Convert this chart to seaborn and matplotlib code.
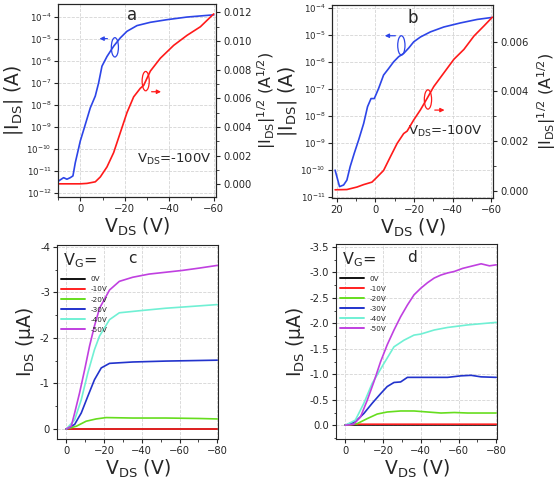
import numpy as np
import pandas as pd
import seaborn as sns
import matplotlib.pyplot as plt
from matplotlib.patches import Ellipse
from matplotlib.ticker import LogLocator, NullLocator, FixedLocator, MultipleLocator, FuncFormatter

# ---- panel a : transfer curve (log |I| and sqrt |I|) ----
a_vg_log = [9.75, 7.5, 6, 4.5, 3.3, 2.25, 1.2, 0, -2.25, -4.5, -6.75, -8.25, -9.75, -12, -15,
            -18, -21, -25.5, -31.5, -39, -48, -60]
a_log_i = [-11.47, -11.32, -11.39, -11.32, -11.24, -10.64, -10.18, -9.65, -8.9, -8.14, -7.6, -7.0,
           -6.24, -5.8, -5.33, -4.95, -4.65, -4.39, -4.24, -4.12, -4.0, -3.9]
a_vg_sqrt = [9.75, 0, -3, -6.75, -9, -12, -15, -18, -21, -24, -27, -28.5, -31.5, -36, -42, -48, -54, -60]
a_sqrt_i = [0.00002, 0.00002, 0.00005, 0.00016, 0.0005, 0.0012, 0.0022, 0.0036, 0.005, 0.0061, 0.0067,
            0.0069, 0.0079, 0.0088, 0.0097, 0.0104, 0.011, 0.0119]

# ---- panel b ----
b_vg_log = [20.9, 18.6, 16.5, 14.8, 13.1, 11, 8.7, 6.1, 4.1, 2.3, 0.6, -1.6, -4.2, -6.8, -9.4, -12,
            -14.6, -17.2, -19.8, -23.3, -28.5, -35.4, -44, -52.7, -60]
b_log_i = [-10.02, -10.63, -10.57, -10.39, -9.89, -9.4, -8.9, -8.29, -7.67, -7.37, -7.37, -7.0, -6.5,
           -6.26, -6.01, -5.82, -5.7, -5.5, -5.27, -5.09, -4.9, -4.72, -4.57, -4.44, -4.37]
b_vg_sqrt = [20.9, 14.8, 9.6, 6.1, 1.8, -0.8, -4.2, -7.7, -11.2, -14.6, -16.4, -19.8, -23.3, -26.8,
             -30.2, -35.4, -40.6, -45.8, -51, -56.2, -60.5]
b_sqrt_i = [0.00003, 0.00004, 0.00014, 0.00024, 0.00034, 0.00054, 0.00081, 0.00136, 0.0019, 0.0023,
            0.0024, 0.00285, 0.00326, 0.00373, 0.0042, 0.00475, 0.0053, 0.0057, 0.00624, 0.00665, 0.007]

# ---- panel c : output curves ----
gate_labels = ['0V', '-10V', '-20V', '-30V', '-40V', '-50V']
c_vd = {
    '0V': [0, -80],
    '-10V': [0, -80],
    '-20V': [0, -5.3, -10.5, -15.8, -21.1, -35.2, -52.7, -70.3, -80],
    '-30V': [0, -4.4, -7.9, -11.4, -14.9, -18.5, -22.9, -35.2, -52.7, -80],
    '-40V': [0, -4.4, -7.9, -11.4, -14.9, -17.6, -22.9, -28.1, -40, -52.7, -63, -80],
    '-50V': [0, -2.6, -4.4, -7, -9.7, -12.3, -14.9, -17.6, -22.9, -28.1, -35.2, -43.9, -52.7, -61.5, -70.3, -80],
}
c_id = {
    '0V': [0, 0],
    '-10V': [0, 0],
    '-20V': [0, -0.06, -0.17, -0.22, -0.25, -0.24, -0.24, -0.23, -0.22],
    '-30V': [0, -0.1, -0.35, -0.72, -1.08, -1.34, -1.44, -1.47, -1.49, -1.51],
    '-40V': [0, -0.2, -0.64, -1.23, -1.74, -2.04, -2.4, -2.55, -2.6, -2.65, -2.68, -2.73],
    '-50V': [0, -0.06, -0.35, -0.79, -1.3, -1.82, -2.26, -2.65, -3.05, -3.24, -3.33, -3.4, -3.44, -3.48, -3.53, -3.59],
}

# ---- panel d ----
d_vd = {
    '0V': [0, -80],
    '-10V': [0, -5, -80],
    '-20V': [0, -6.2, -11.6, -16.9, -22.2, -29.3, -36.4, -43.6, -50.7, -57.8, -64.9, -80],
    '-30V': [0, -5.3, -9.8, -14.2, -18.7, -22.2, -25.8, -29.3, -32.9, -40, -47.1, -54.2, -61.3, -66.7, -72, -80],
    '-40V': [0, -5.3, -9.8, -14.2, -20.4, -25.8, -31.1, -36.4, -40, -47.1, -54.2, -64.9, -80],
    '-50V': [0, -4.4, -8, -11.6, -15.1, -18.7, -22.2, -25.8, -29.3, -32.9, -36.4, -40, -43.6, -47.1,
             -50.7, -54.2, -57.8, -62.2, -67.6, -72, -76.4, -80],
}
d_id = {
    '0V': [0, 0],
    '-10V': [0, -0.02, -0.02],
    '-20V': [0, -0.03, -0.13, -0.22, -0.26, -0.28, -0.28, -0.26, -0.24, -0.25, -0.24, -0.24],
    '-30V': [0, -0.07, -0.23, -0.43, -0.62, -0.76, -0.84, -0.85, -0.94, -0.94, -0.94, -0.94, -0.97, -0.98, -0.95, -0.94],
    '-40V': [0, -0.1, -0.43, -0.82, -1.21, -1.54, -1.67, -1.77, -1.79, -1.87, -1.92, -1.97, -2.02],
    '-50V': [0, -0.02, -0.16, -0.49, -0.85, -1.25, -1.58, -1.87, -2.13, -2.36, -2.56, -2.69, -2.8, -2.89,
             -2.95, -2.99, -3.02, -3.08, -3.13, -3.17, -3.13, -3.15],
}

gate_colors = ['#111111', '#ff2020', '#66dd1e', '#2233cc', '#70f0d4', '#c040e0']
blue = '#2d45e8'
red = '#ff1a1a'

sns.set_style("ticks")
plt.rcParams['font.family'] = ['DejaVu Sans']
plt.rcParams['mathtext.default'] = 'regular'
plt.rcParams['xtick.direction'] = 'out'
plt.rcParams['ytick.direction'] = 'out'

fig = plt.figure(figsize=(5.58, 4.84), dpi=100)
ax_a = fig.add_axes([0.104, 0.593, 0.283, 0.399])
ax_b = fig.add_axes([0.595, 0.591, 0.289, 0.399])
ax_c = fig.add_axes([0.102, 0.093, 0.289, 0.401])
ax_d = fig.add_axes([0.602, 0.093, 0.289, 0.403])

tick_fs = 7.2
label_fs = 13.5
grid_kw = dict(color='#d4d4d4', linewidth=0.6, linestyle='--')


def pow_fmt(v, pos):
    return r'$10^{%d}$' % round(np.log10(v))


def transfer(ax, vg_log, log_i, vg_sqrt, sqrt_i, xlim, ylog, ysq, sq_ticks, letter, letter_pos,
             vds_pos, blue_mark, red_mark, right_label_x):
    df_log = pd.DataFrame({'vg': vg_log, 'i': 10 ** np.array(log_i)})
    df_sq = pd.DataFrame({'vg': vg_sqrt, 'i': sqrt_i})
    sns.lineplot(data=df_log, x='vg', y='i', ax=ax, color=blue, lw=1.2, sort=False)
    ax.set_yscale('log')
    ax.set_xlim(*xlim)
    ax.set_ylim(10 ** ylog[0], 10 ** ylog[1])
    ax.yaxis.set_major_locator(LogLocator(base=10, numticks=20))
    ax.yaxis.set_major_formatter(FuncFormatter(pow_fmt))
    ax.yaxis.set_minor_locator(NullLocator())
    ax.xaxis.set_major_locator(MultipleLocator(20))
    ax.xaxis.set_minor_locator(MultipleLocator(10))
    ax.grid(axis='y', **grid_kw)
    ax.grid(axis='x', **grid_kw)
    ax.tick_params(labelsize=tick_fs, length=3, width=0.8, pad=2)
    ax.tick_params(axis='y', labelsize=6.2, pad=1.5)
    ax.tick_params(which='minor', length=1.8)
    ax.set_xlabel(r'V$_{DS}$ (V)', fontsize=label_fs, labelpad=1)
    ax.set_ylabel(r'|I$_{DS}$| (A)', fontsize=label_fs, labelpad=1)

    ax2 = ax.twinx()
    sns.lineplot(data=df_sq, x='vg', y='i', ax=ax2, color=red, lw=1.2, sort=False)
    ax2.set_ylim(*ysq)
    step = sq_ticks[1] - sq_ticks[0]
    ax2.yaxis.set_major_locator(FixedLocator(sq_ticks))
    ax2.yaxis.set_minor_locator(FixedLocator(np.array(sq_ticks[:-1]) + step / 2))
    ax2.yaxis.set_major_formatter(FuncFormatter(lambda v, p: '%.3f' % v))
    ax2.tick_params(labelsize=tick_fs, length=3, width=0.8, pad=2)
    ax2.tick_params(which='minor', length=1.8)
    ax2.set_ylabel(r'|I$_{DS}$|$^{1/2}$ (A$^{1/2}$)', fontsize=11.5)
    ax2.yaxis.set_label_coords(right_label_x, 0.5)
    ax2.set_xlim(*xlim)
    ax2.set_xlabel('')
    for s in ax.spines.values():
        s.set_linewidth(0.8)

    ax.text(letter_pos[0], letter_pos[1], letter, transform=ax.transAxes, fontsize=12,
            ha='center', va='center')
    ax.text(vds_pos[0], vds_pos[1], r'V$_{DS}$=-100V', transform=ax.transAxes, fontsize=9.5,
            ha='left', va='center')

    # ellipses and arrows marking which axis each curve belongs to
    (bx, by, bax0, bax1, bay) = blue_mark
    (rx, ry, rax0, rax1, ray) = red_mark
    ax.add_patch(Ellipse((bx, by), 0.045, 0.1, transform=ax.transAxes, fill=False, ec=blue, lw=0.9))
    ax.annotate('', xy=(bax1, bay), xytext=(bax0, bay), xycoords='axes fraction',
                arrowprops=dict(arrowstyle='-|>', color=blue, lw=0.9, mutation_scale=6))
    ax2.add_patch(Ellipse((rx, ry), 0.045, 0.1, transform=ax2.transAxes, fill=False, ec=red, lw=0.9))
    ax2.annotate('', xy=(rax1, ray), xytext=(rax0, ray), xycoords='axes fraction',
                 arrowprops=dict(arrowstyle='-|>', color=red, lw=0.9, mutation_scale=6))
    return ax2


transfer(ax_a, a_vg_log, a_log_i, a_vg_sqrt, a_sqrt_i, (10, -61), (-12.2, -3.4), (-0.0009, 0.0126),
         [0.0, 0.002, 0.004, 0.006, 0.008, 0.010, 0.012], 'a', (0.47, 0.94), (0.50, 0.195),
         (0.36, 0.775, 0.33, 0.245, 0.82), (0.555, 0.6, 0.575, 0.67, 0.545), 1.25)
transfer(ax_b, b_vg_log, b_log_i, b_vg_sqrt, b_sqrt_i, (22.5, -61), (-11.05, -3.9), (-0.0003, 0.0075),
         [0.0, 0.002, 0.004, 0.006], 'b', (0.5, 0.93), (0.47, 0.345),
         (0.43, 0.79, 0.41, 0.31, 0.84), (0.595, 0.51, 0.62, 0.715, 0.455), 1.26)


def output(ax, vd, idd, ylim, yticks, ytick_fmt, minor_y, letter, letter_pos):
    rows = []
    for g in gate_labels:
        for v, i in zip(vd[g], idd[g]):
            rows.append({'Vd': v, 'Id': i, 'Vg': g})
    df = pd.DataFrame(rows)
    sns.lineplot(data=df, x='Vd', y='Id', hue='Vg', hue_order=gate_labels, palette=gate_colors,
                 ax=ax, lw=1.2, sort=False)
    ax.set_xlim(5, -80.5)
    ax.set_ylim(*ylim)
    ax.xaxis.set_major_locator(MultipleLocator(20))
    ax.xaxis.set_minor_locator(MultipleLocator(10))
    ax.yaxis.set_major_locator(FixedLocator(yticks))
    ax.yaxis.set_minor_locator(MultipleLocator(minor_y))
    ax.yaxis.set_major_formatter(FuncFormatter(lambda v, p: ytick_fmt % v if abs(v) > 1e-9 else ytick_fmt % 0))
    ax.grid(**grid_kw)
    ax.tick_params(labelsize=tick_fs, length=3, width=0.8, pad=2)
    ax.tick_params(which='minor', length=1.8)
    for s in ax.spines.values():
        s.set_linewidth(0.8)
    ax.set_xlabel(r'V$_{DS}$ (V)', fontsize=label_fs, labelpad=1)
    ax.set_ylabel(r'I$_{DS}$ ($\mu$A)', fontsize=label_fs, labelpad=2)
    ax.text(letter_pos[0], letter_pos[1], letter, transform=ax.transAxes, fontsize=11,
            ha='center', va='center')
    ax.text(0.04, 0.92, r'V$_G$=', transform=ax.transAxes, fontsize=11.5, ha='left', va='center')
    leg = ax.legend(loc='upper left', bbox_to_anchor=(0.0, 0.86), frameon=False, fontsize=5.2,
                    handlelength=3.3, handletextpad=0.8, labelspacing=0.55, borderaxespad=0.2)
    for h in leg.get_lines():
        h.set_linewidth(1.4)


output(ax_c, c_vd, c_id, (0.22, -4.04), [0, -1, -2, -3, -4], '%g', 0.5, 'c', (0.47, 0.93))
output(ax_d, d_vd, d_id, (0.27, -3.56), [0, -0.5, -1.0, -1.5, -2.0, -2.5, -3.0, -3.5], '%.1f', 0.25,
       'd', (0.47, 0.93))

plt.savefig('out.png', dpi=100)
plt.close()
